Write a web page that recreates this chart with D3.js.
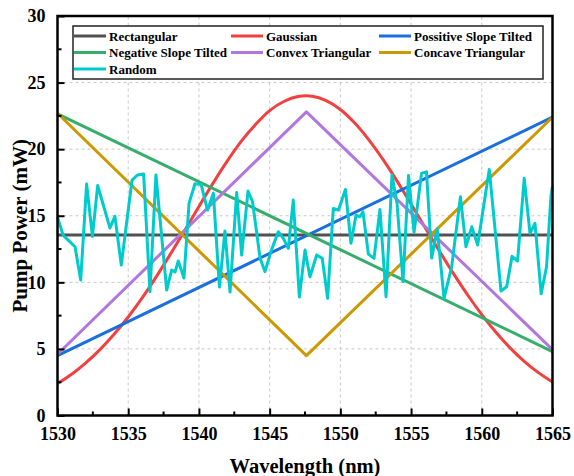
<!DOCTYPE html>
<html>
<head>
<meta charset="utf-8">
<script src="https://cdn.jsdelivr.net/npm/d3@7"></script>
<style>
  html, body { margin: 0; padding: 0; background: #fff; }
  svg { display: block; }
  text { font-family: "Liberation Serif", "Times New Roman", serif; font-weight: bold; fill: #000; }
</style>
</head>
<body>
<div id="chart"></div>
<script>
// Pump power profiles across the C-band

const xTicks = [1530, 1535, 1540, 1545, 1550, 1555, 1560, 1565];
const yTicks = [0, 5, 10, 15, 20, 25, 30];

const seriesNames = ["Rectangular", "Gaussian", "Possitive Slope Tilted",
  "Negative Slope Tilted", "Convex Triangular", "Concave Triangular", "Random"];
const seriesColors = ["#515151", "#F14040", "#1A6FDF", "#37AD6B", "#B177DE", "#CC9900", "#00CBCC"];

const rectWl = [1530, 1565];
const rectPower = [13.55, 13.55];

const gaussWl = [1530, 1531, 1532, 1533, 1534, 1535, 1536, 1537, 1538, 1539, 1540, 1541,
  1542, 1543, 1544, 1545, 1546, 1547, 1548, 1549, 1550, 1551, 1552, 1553,
  1554, 1555, 1556, 1557, 1558, 1559, 1560, 1561, 1562, 1563, 1564, 1565];
const gaussPower = [2.4, 3.1, 3.95, 4.95, 6.1, 7.4, 8.85, 10.45, 12.15, 13.9, 15.7, 17.45,
  19.1, 20.6, 21.85, 22.9, 23.58, 23.95, 23.98, 23.65, 22.98, 21.98, 20.72, 19.25,
  17.62, 15.88, 14.1, 12.35, 10.65, 9.05, 7.58, 6.25, 5.08, 4.07, 3.22, 2.52];

const posWl = [1530, 1565];
const posPower = [4.5, 22.4];

const negWl = [1530, 1565];
const negPower = [22.65, 4.8];

const convexWl = [1530, 1547.6, 1565];
const convexPower = [4.6, 22.8, 4.95];

const concaveWl = [1530, 1547.6, 1565];
const concavePower = [22.7, 4.5, 22.4];

const randWl = [1530.00, 1530.39, 1531.24, 1531.64, 1532.06, 1532.47, 1532.84, 1533.71,
  1534.06, 1534.51, 1535.27, 1535.66, 1536.09, 1536.54, 1536.96, 1537.72, 1538.07, 1538.31,
  1538.54, 1538.94, 1539.30, 1539.72, 1540.15, 1540.61, 1541.02, 1541.45, 1541.84, 1542.20,
  1542.67, 1543.02, 1543.47, 1543.79, 1544.32, 1544.67, 1545.13, 1545.61, 1545.97, 1546.32,
  1546.67, 1547.10, 1547.50, 1547.85, 1548.33, 1548.72, 1549.10, 1549.50, 1549.87, 1550.36,
  1550.75, 1551.11, 1551.39, 1551.60, 1551.98, 1552.38, 1552.80, 1553.23, 1553.65, 1554.01,
  1554.43, 1554.82, 1555.21, 1555.74, 1556.09, 1556.46, 1556.85, 1557.33, 1557.87, 1558.49,
  1558.88, 1559.29, 1559.71, 1560.53, 1561.36, 1561.76, 1562.14, 1562.53, 1563.00, 1563.41,
  1563.76, 1564.20, 1564.58, 1564.89, 1565.00];
const randPower = [14.9, 13.55, 12.67, 10.17, 17.38, 13.45, 17.27, 14.08,
  14.95, 11.3, 17.68, 18.06, 18.13, 9.29, 18.06, 9.42, 10.92, 10.77,
  11.6, 10.32, 15.93, 17.4, 17.35, 15.43, 16.7, 9.65, 13.85, 9.27,
  16.74, 12.05, 16.85, 16.07, 11.82, 10.8, 12.42, 13.8, 13.3, 12.55,
  16.18, 8.9, 12.42, 10.42, 12.05, 11.8, 8.8, 15.54, 15.43, 16.97,
  12.93, 15.05, 14.92, 15.3, 12.12, 11.8, 15.47, 8.92, 18.06, 15.9,
  10.05, 18.02, 13.75, 18.18, 18.3, 11.82, 14.0, 8.8, 11.17, 16.43,
  12.67, 14.17, 12.8, 18.47, 9.35, 9.67, 11.95, 11.6, 17.81, 13.68,
  14.43, 9.14, 11.17, 16.48, 17.2];

const W = 574, H = 476;
const margin = { left: 57.5, right: 21.5, top: 16, bottom: 60.5 };

const svg = d3.select("#chart").append("svg")
  .attr("width", W).attr("height", H);

const x = d3.scaleLinear().domain([1530, 1565]).range([margin.left, W - margin.right]);
const y = d3.scaleLinear().domain([0, 30]).range([H - margin.bottom, margin.top]);

// dashed grid at major ticks
const grid = svg.append("g").attr("stroke", "#c8c8c8").attr("stroke-width", 1)
  .attr("stroke-dasharray", "3,3");
grid.selectAll("line.gx").data(xTicks.slice(1, -1)).join("line")
  .attr("x1", d => x(d)).attr("x2", d => x(d))
  .attr("y1", y(0)).attr("y2", y(30));
grid.selectAll("line.gy").data(yTicks.slice(1, -1)).join("line")
  .attr("x1", x(1530)).attr("x2", x(1565))
  .attr("y1", d => y(d)).attr("y2", d => y(d));

// series
const line = d3.line().x(d => x(d[0])).y(d => y(d[1]));
const smooth = d3.line().x(d => x(d[0])).y(d => y(d[1])).curve(d3.curveCatmullRom);
const zip = (a, b) => a.map((v, i) => [v, b[i]]);

const series = [
  { pts: zip(rectWl, rectPower), gen: line },
  { pts: zip(gaussWl, gaussPower), gen: smooth },
  { pts: zip(posWl, posPower), gen: line },
  { pts: zip(negWl, negPower), gen: line },
  { pts: zip(convexWl, convexPower), gen: line },
  { pts: zip(concaveWl, concavePower), gen: line },
  { pts: zip(randWl, randPower), gen: line }
];

const plot = svg.append("g");
series.forEach((s, i) => {
  plot.append("path")
    .attr("d", s.gen(s.pts))
    .attr("fill", "none")
    .attr("stroke", seriesColors[i])
    .attr("stroke-width", 3)
    .attr("stroke-linejoin", "round");
});

// axes with inward ticks
const xMinor = d3.range(1532.5, 1565, 5);
const yMinor = d3.range(2.5, 30, 5);

const xAxis = d3.axisBottom(x).tickValues(xTicks).tickSizeInner(-7).tickSizeOuter(0)
  .tickPadding(12).tickFormat(d3.format("d"));
const gx = svg.append("g").attr("transform", `translate(0,${y(0)})`).call(xAxis);
gx.selectAll(".tick line").attr("stroke", "#000").attr("stroke-width", 2);
gx.selectAll(".tick text").attr("font-size", 18).attr("font-family", "Liberation Serif").attr("font-weight", "bold");
gx.select(".domain").remove();
svg.append("g").selectAll("line").data(xMinor).join("line")
  .attr("x1", d => x(d)).attr("x2", d => x(d))
  .attr("y1", y(0)).attr("y2", y(0) - 4)
  .attr("stroke", "#000").attr("stroke-width", 2);

const yAxis = d3.axisLeft(y).tickValues(yTicks).tickSizeInner(-7).tickSizeOuter(0)
  .tickPadding(12);
const gy = svg.append("g").attr("transform", `translate(${x(1530)},0)`).call(yAxis);
gy.selectAll(".tick line").attr("stroke", "#000").attr("stroke-width", 2);
gy.selectAll(".tick text").attr("font-size", 18).attr("font-family", "Liberation Serif").attr("font-weight", "bold");
gy.select(".domain").remove();
svg.append("g").selectAll("line").data(yMinor).join("line")
  .attr("x1", x(1530)).attr("x2", x(1530) + 4)
  .attr("y1", d => y(d)).attr("y2", d => y(d))
  .attr("stroke", "#000").attr("stroke-width", 2);

// frame
svg.append("rect")
  .attr("x", x(1530)).attr("y", y(30))
  .attr("width", x(1565) - x(1530)).attr("height", y(0) - y(30))
  .attr("fill", "none").attr("stroke", "#000").attr("stroke-width", 2.5);

// axis titles
svg.append("text")
  .attr("x", (x(1530) + x(1565)) / 2).attr("y", 473)
  .attr("text-anchor", "middle").attr("font-size", 20.5)
  .text("Wavelength (nm)");
svg.append("text")
  .attr("transform", `translate(27,${(y(0) + y(30)) / 2 + 10}) rotate(-90)`)
  .attr("text-anchor", "middle").attr("font-size", 21)
  .text("Pump Power (mW)");

// legend
const legend = svg.append("g");
legend.append("rect")
  .attr("x", 73).attr("y", 26).attr("width", 470).attr("height", 53)
  .attr("fill", "#fff").attr("stroke", "#222").attr("stroke-width", 1.5);
const colX = [74, 231, 379];
const rowY = [36, 52.5, 69];
seriesNames.forEach((name, i) => {
  const cx = colX[i % 3], cy = rowY[Math.floor(i / 3)];
  legend.append("line")
    .attr("x1", cx).attr("x2", cx + 32).attr("y1", cy).attr("y2", cy)
    .attr("stroke", seriesColors[i]).attr("stroke-width", 3);
  legend.append("text")
    .attr("x", cx + 35).attr("y", cy + 4.5)
    .attr("font-size", 13)
    .text(name);
});
</script>
</body>
</html>
